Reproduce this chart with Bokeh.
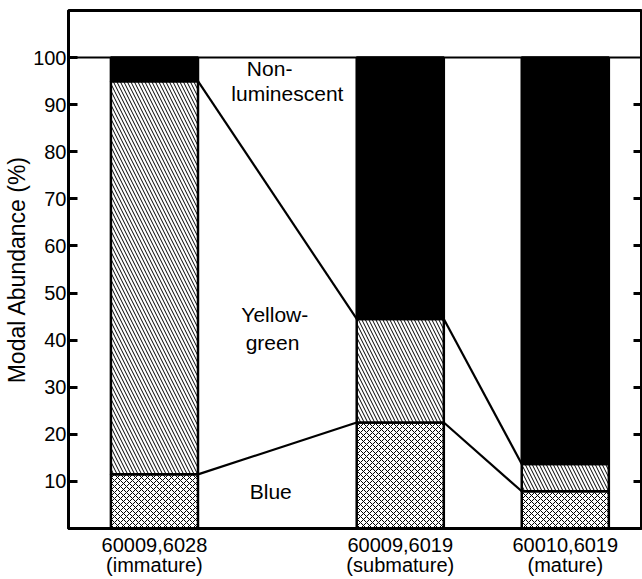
from bokeh.plotting import figure
from bokeh.models import FixedTicker, LinearAxis, Span, Range1d
from bokeh.core.properties import value
from bokeh.embed import file_html
from bokeh.resources import INLINE

# ---- data ----
samples = ["60009,6028\n(immature)", "60009,6019\n(submature)", "60010,6019\n(mature)"]
positions = [1.5, 5.79, 8.67]
bar_width = 1.52
blue = [11.5, 22.5, 7.9]
yellow_green = [83.5, 22.0, 5.8]          # stacked on top of blue
non_luminescent = [5.0, 55.5, 86.3]       # remainder up to 100
y_ticks = [10, 20, 30, 40, 50, 60, 70, 80, 90, 100]
region_labels = ["Non-", "luminescent", "Yellow-", "green", "Blue"]
region_x = [3.51, 3.82, 3.60, 3.56, 3.53]
region_y = [97.7, 92.4, 45.4, 39.4, 7.8]

FONT = "Liberation Sans"

p = figure(width=642, height=579, x_range=Range1d(0, 10), y_range=Range1d(0, 110),
           output_backend="svg", toolbar_location=None,
           min_border_left=68, min_border_right=1, min_border_top=10, min_border_bottom=50)
p.xgrid.visible = False
p.ygrid.visible = False
p.outline_line_color = "black"
p.outline_line_width = 3
p.background_fill_color = "white"

bl_top = blue
yg_top = [b + y for b, y in zip(blue, yellow_green)]
nl_top = [t + n for t, n in zip(yg_top, non_luminescent)]

# blue (cross-hatched)
p.vbar(x=positions, width=bar_width, bottom=0, top=bl_top, fill_color="white",
       line_color="black", line_width=2.5, hatch_pattern="diagonal_cross",
       hatch_color="black", hatch_scale=6, hatch_weight=1)
# yellow-green (diagonal)
p.vbar(x=positions, width=bar_width, bottom=bl_top, top=yg_top, fill_color="white",
       line_color="black", line_width=2.5, hatch_pattern="\\",
       hatch_color="black", hatch_scale=7, hatch_weight=1)
# non-luminescent (black)
p.vbar(x=positions, width=bar_width, bottom=yg_top, top=nl_top, fill_color="black",
       line_color="black", line_width=2.5)

# connecting lines between bars
for tops in (bl_top, yg_top):
    for i in range(len(positions) - 1):
        p.line([positions[i] + bar_width / 2, positions[i + 1] - bar_width / 2],
               [tops[i], tops[i + 1]], line_color="black", line_width=2.2)

p.add_layout(Span(location=100, dimension="width", line_color="black", line_width=2))

p.text(x=region_x, y=region_y, text=region_labels, text_align="center",
       text_baseline="middle", text_font=value(FONT), text_font_size="21px",
       text_color="black")

# axes
p.yaxis.ticker = FixedTicker(ticks=y_ticks)
p.yaxis.axis_line_width = 3
p.yaxis.major_tick_in = 9
p.yaxis.major_tick_out = 0
p.yaxis.major_tick_line_width = 3
p.yaxis.minor_tick_line_color = None
p.yaxis.major_label_text_font = FONT
p.yaxis.major_label_text_font_size = "20px"
p.yaxis.major_label_text_color = "black"
p.yaxis.major_label_standoff = 2
p.yaxis.axis_label = "Modal Abundance (%)"
p.yaxis.axis_label_text_font = FONT
p.yaxis.axis_label_text_font_size = "23px"
p.yaxis.axis_label_text_font_style = "normal"
p.yaxis.axis_label_text_color = "black"
p.yaxis.axis_label_standoff = 0

p.xaxis.ticker = FixedTicker(ticks=positions)
p.xaxis.major_label_overrides = {pos: lab for pos, lab in zip(positions, samples)}
p.xaxis.axis_line_width = 3
p.xaxis.major_tick_in = 0
p.xaxis.major_tick_out = 0
p.xaxis.minor_tick_line_color = None
p.xaxis.major_label_text_font = FONT
p.xaxis.major_label_text_font_size = "20px"
p.xaxis.major_label_text_color = "black"
p.xaxis.major_label_text_line_height = 0.95
p.xaxis.major_label_standoff = 5

right = LinearAxis(ticker=FixedTicker(ticks=y_ticks[:-1]))
right.major_label_overrides = {t: "" for t in y_ticks[:-1]}
right.major_label_standoff = 0
right.major_tick_in = 8
right.major_tick_out = 0
right.major_tick_line_width = 3
right.minor_tick_line_color = None
right.axis_line_width = 3
p.add_layout(right, "right")

open("out.html", "w").write(file_html(p, INLINE))
